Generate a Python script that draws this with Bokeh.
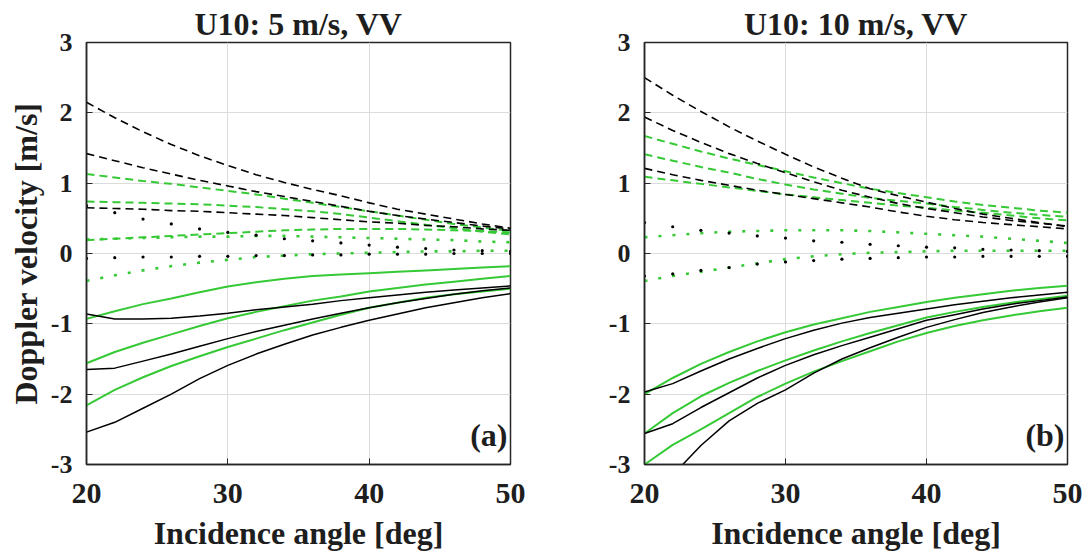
from bokeh.plotting import figure
from bokeh.layouts import row
from bokeh.models import Range1d, FixedTicker, Label
from bokeh.embed import file_html
from bokeh.resources import INLINE

# ---------------- data ----------------
angles = [20, 22, 24, 26, 28, 30, 32, 34, 36, 38, 40, 42, 44, 46, 48, 50]
x_ticks = [20, 30, 40, 50]
y_ticks = [-3, -2, -1, 0, 1, 2, 3]
titles = ["U10: 5 m/s, VV", "U10: 10 m/s, VV"]
tags = ["(a)", "(b)"]

# U10 = 5 m/s
u5_dash_black = [
    [2.15, 1.93, 1.73, 1.55, 1.39, 1.25, 1.12, 1.01, 0.91, 0.82, 0.72, 0.63, 0.56, 0.49, 0.42, 0.36],
    [1.42, 1.32, 1.22, 1.13, 1.04, 0.96, 0.88, 0.81, 0.74, 0.67, 0.60, 0.54, 0.49, 0.44, 0.39, 0.35],
    [0.65, 0.64, 0.63, 0.61, 0.60, 0.58, 0.56, 0.54, 0.51, 0.48, 0.45, 0.43, 0.40, 0.38, 0.35, 0.33],
]
u5_dash_green = [
    [1.13, 1.08, 1.03, 0.99, 0.94, 0.89, 0.84, 0.78, 0.72, 0.66, 0.60, 0.54, 0.48, 0.42, 0.37, 0.32],
    [0.74, 0.73, 0.72, 0.71, 0.70, 0.68, 0.66, 0.63, 0.60, 0.56, 0.51, 0.46, 0.41, 0.36, 0.31, 0.27],
    [0.19, 0.21, 0.23, 0.25, 0.27, 0.29, 0.31, 0.33, 0.34, 0.35, 0.35, 0.35, 0.34, 0.33, 0.32, 0.30],
]
u5_dot_green = [
    [0.20, 0.21, 0.22, 0.23, 0.24, 0.24, 0.25, 0.25, 0.24, 0.23, 0.22, 0.21, 0.20, 0.19, 0.17, 0.16],
    [-0.39, -0.31, -0.24, -0.18, -0.13, -0.09, -0.05, -0.03, -0.01, 0.00, 0.01, 0.02, 0.03, 0.03, 0.04, 0.04],
]
u5_dot_black = [
    [0.68, 0.58, 0.49, 0.42, 0.35, 0.30, 0.26, 0.21, 0.18, 0.15, 0.12, 0.09, 0.07, 0.05, 0.04, 0.03],
    [-0.07, -0.06, -0.05, -0.05, -0.04, -0.04, -0.03, -0.03, -0.02, -0.02, -0.01, -0.01, -0.01, 0.00, 0.00, 0.00],
]
u5_solid_green = [
    [-0.93, -0.82, -0.72, -0.64, -0.55, -0.47, -0.41, -0.36, -0.32, -0.30, -0.28, -0.26, -0.24, -0.22, -0.20, -0.18],
    [-1.56, -1.40, -1.27, -1.15, -1.03, -0.92, -0.83, -0.75, -0.67, -0.61, -0.54, -0.49, -0.44, -0.40, -0.36, -0.32],
    [-2.16, -1.94, -1.76, -1.60, -1.46, -1.33, -1.21, -1.09, -0.98, -0.87, -0.77, -0.70, -0.63, -0.58, -0.54, -0.50],
]
u5_solid_black = [
    [-0.86, -0.93, -0.93, -0.92, -0.89, -0.85, -0.80, -0.76, -0.72, -0.67, -0.63, -0.59, -0.55, -0.52, -0.49, -0.46],
    [-1.65, -1.63, -1.53, -1.43, -1.32, -1.21, -1.11, -1.02, -0.93, -0.85, -0.77, -0.70, -0.64, -0.58, -0.53, -0.49],
    [-2.54, -2.40, -2.20, -2.00, -1.78, -1.59, -1.43, -1.29, -1.16, -1.05, -0.95, -0.86, -0.77, -0.70, -0.63, -0.57],
]

# U10 = 10 m/s
u10_dash_black = [
    [2.50, 2.25, 2.02, 1.80, 1.60, 1.41, 1.23, 1.07, 0.92, 0.82, 0.73, 0.64, 0.56, 0.50, 0.44, 0.38],
    [1.94, 1.75, 1.58, 1.42, 1.28, 1.15, 1.02, 0.90, 0.80, 0.71, 0.64, 0.58, 0.52, 0.47, 0.43, 0.39],
    [1.21, 1.12, 1.04, 0.97, 0.90, 0.84, 0.78, 0.72, 0.66, 0.59, 0.53, 0.48, 0.44, 0.41, 0.38, 0.35],
]
u10_dash_green = [
    [1.67, 1.56, 1.45, 1.35, 1.26, 1.17, 1.08, 1.00, 0.92, 0.86, 0.80, 0.74, 0.69, 0.65, 0.61, 0.58],
    [1.41, 1.32, 1.23, 1.15, 1.06, 0.98, 0.91, 0.85, 0.79, 0.75, 0.71, 0.66, 0.62, 0.58, 0.55, 0.52],
    [1.09, 1.04, 0.99, 0.94, 0.89, 0.84, 0.80, 0.76, 0.72, 0.68, 0.65, 0.61, 0.58, 0.54, 0.50, 0.47],
]
u10_dot_green = [
    [0.23, 0.26, 0.29, 0.31, 0.32, 0.33, 0.33, 0.33, 0.32, 0.30, 0.28, 0.26, 0.24, 0.21, 0.18, 0.15],
    [-0.39, -0.32, -0.26, -0.20, -0.14, -0.08, -0.04, -0.01, 0.01, 0.02, 0.03, 0.04, 0.04, 0.04, 0.04, 0.04],
]
u10_dot_black = [
    [0.44, 0.38, 0.33, 0.29, 0.25, 0.22, 0.18, 0.16, 0.13, 0.11, 0.09, 0.08, 0.06, 0.05, 0.04, 0.03],
    [-0.32, -0.29, -0.24, -0.20, -0.15, -0.12, -0.10, -0.08, -0.07, -0.06, -0.05, -0.05, -0.04, -0.04, -0.04, -0.04],
]
u10_solid_green = [
    [-2.00, -1.77, -1.57, -1.40, -1.25, -1.12, -1.01, -0.92, -0.83, -0.76, -0.69, -0.63, -0.58, -0.53, -0.49, -0.46],
    [-2.56, -2.27, -2.03, -1.84, -1.67, -1.52, -1.38, -1.25, -1.13, -1.02, -0.91, -0.83, -0.76, -0.70, -0.65, -0.60],
    [-3.00, -2.72, -2.50, -2.27, -2.04, -1.85, -1.68, -1.53, -1.39, -1.25, -1.13, -1.03, -0.95, -0.88, -0.82, -0.77],
]
u10_solid_black = [
    [-1.97, -1.85, -1.67, -1.50, -1.35, -1.21, -1.09, -0.99, -0.91, -0.85, -0.79, -0.73, -0.68, -0.63, -0.59, -0.55],
    [-2.56, -2.42, -2.19, -1.98, -1.77, -1.59, -1.44, -1.31, -1.19, -1.07, -0.95, -0.87, -0.79, -0.72, -0.67, -0.62],
    [-3.70, -3.15, -2.73, -2.38, -2.13, -1.94, -1.70, -1.50, -1.34, -1.19, -1.05, -0.94, -0.84, -0.76, -0.69, -0.63],
]

panels = [
    dict(dash_k=u5_dash_black, dash_g=u5_dash_green, dot_g=u5_dot_green, dot_k=u5_dot_black,
         solid_g=u5_solid_green, solid_k=u5_solid_black),
    dict(dash_k=u10_dash_black, dash_g=u10_dash_green, dot_g=u10_dot_green, dot_k=u10_dot_black,
         solid_g=u10_solid_green, solid_k=u10_solid_black),
]

# ---------------- styling ----------------
GREEN = "#36c936"
BLACK = "#000000"
AX = "#262626"
TXT = "#1e1e1e"
FONT = "Liberation Serif"
H = 556
TOP = 42
BOTTOM = 92


def make_panel(i, width, left, right, ylabel):
    d = panels[i]
    p = figure(width=width, height=H, x_range=Range1d(20, 50), y_range=Range1d(-3, 3),
               output_backend="svg", toolbar_location=None,
               min_border_left=left, min_border_right=right,
               min_border_top=TOP, min_border_bottom=BOTTOM,
               background_fill_color="white", border_fill_color="white")
    p.outline_line_color = AX
    p.outline_line_width = 1.5
    p.outline_line_alpha = 1.0

    p.title.text = titles[i]
    p.title.align = "center"
    p.title.text_font = FONT
    p.title.text_font_style = "bold"
    p.title.text_font_size = "32px"
    p.title.text_color = TXT
    p.title.standoff = 2

    for ax in (p.xaxis, p.yaxis):
        ax.axis_line_color = AX
        ax.axis_line_width = 1.5
        ax.major_tick_line_color = AX
        ax.major_tick_line_width = 1
        ax.major_tick_in = 6
        ax.major_tick_out = 0
        ax.minor_tick_line_color = None
        ax.major_label_text_font = FONT
        ax.major_label_text_font_style = "bold"
        ax.major_label_text_color = TXT
        ax.axis_label_text_font = FONT
        ax.axis_label_text_font_style = "bold"
        ax.axis_label_text_color = TXT
        ax.axis_label_text_font_size = "32px"

    p.xaxis.ticker = FixedTicker(ticks=x_ticks)
    p.yaxis.ticker = FixedTicker(ticks=y_ticks)
    p.xaxis.major_label_overrides = {t: str(t) for t in x_ticks}
    p.yaxis.major_label_overrides = {t: str(t) for t in y_ticks}
    p.xaxis.major_label_text_font_size = "30px"
    p.yaxis.major_label_text_font_size = "26px"
    p.xaxis.major_label_standoff = 19
    p.yaxis.major_label_standoff = 14
    p.xaxis.axis_label = "Incidence angle [deg]"
    p.xaxis.axis_label_standoff = 9
    if ylabel:
        p.yaxis.axis_label = "Doppler velocity [m/s]"
        p.yaxis.axis_label_standoff = 4

    p.xgrid.ticker = FixedTicker(ticks=[30, 40])
    p.ygrid.ticker = FixedTicker(ticks=[-2, -1, 0, 1, 2])
    for g in (p.xgrid, p.ygrid):
        g.grid_line_color = "#dcdcdc"
        g.grid_line_width = 1

    for ys in d["dot_g"]:
        p.line(angles, ys, line_color=GREEN, line_width=2.6, line_dash="3 11")
    for ys in d["dot_k"]:
        p.scatter(angles, ys, size=3.2, fill_color=BLACK, line_color=None)
    for ys in d["dash_g"]:
        p.line(angles, ys, line_color=GREEN, line_width=2, line_dash="8 5")
    for ys in d["dash_k"]:
        p.line(angles, ys, line_color=BLACK, line_width=1.6, line_dash="8 5")
    for ys in d["solid_g"]:
        p.line(angles, ys, line_color=GREEN, line_width=2)
    for ys in d["solid_k"]:
        p.line(angles, ys, line_color=BLACK, line_width=1.5)

    p.add_layout(Label(x=50, y=-3, x_offset=-3, y_offset=30, text=tags[i], text_align="right",
                       text_baseline="alphabetic", text_font=FONT, text_font_style="bold",
                       text_font_size="32px", text_color=TXT))
    return p


p1 = make_panel(0, 548, 86, 38, True)
p2 = make_panel(1, 539, 96, 20, False)
layout = row(p1, p2)

open("out.html", "w").write(file_html(layout, INLINE))
